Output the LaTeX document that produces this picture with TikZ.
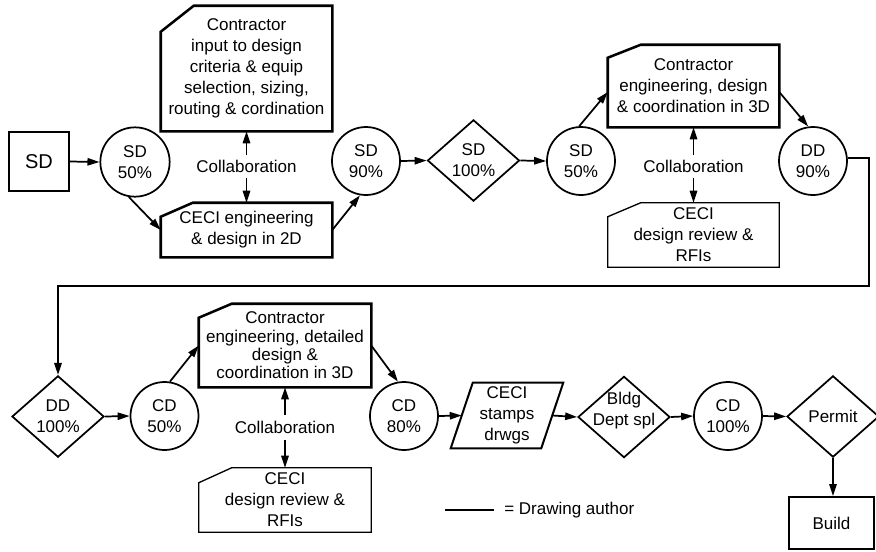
\documentclass[tikz,border=0pt]{standalone}
\usepackage{fontspec}
\setmainfont{Liberation Sans}
\usetikzlibrary{shapes.geometric,arrows.meta}

% Rectangle outline with the top-left corner cut off:
% #1 draw style, #2 node name, #3 horizontal cut, #4 vertical cut
\newcommand\cutbox[4]{%
  \draw[#1] ([yshift=-#4]#2.north west) -- ([xshift=#3]#2.north west)
    -- (#2.north east) -- (#2.south east) -- (#2.south west) -- cycle;}

% Parallelogram outline around a rectangular node, #3 = slant offset
\newcommand\slantbox[3]{%
  \draw[#1] ([xshift=#3]#2.north west) -- ([xshift=#3]#2.north east)
    -- ([xshift=-#3]#2.south east) -- ([xshift=-#3]#2.south west) -- cycle;}

\begin{document}
\begin{tikzpicture}[x=0.75pt,y=-0.75pt,
  every node/.style={font=\fontsize{12.75pt}{15.75pt}\selectfont,
    align=center, inner sep=0pt},
  proc/.style={rectangle, draw, line width=1.5pt},
  area/.style={rectangle, minimum width=128.25pt},
  circ/.style={circle, draw, line width=1.3pt, minimum size=51pt},
  dia/.style={diamond, draw, line width=1.3pt, minimum width=69pt,
    minimum height=61pt, aspect=1.14},
  flow/.style={line width=1.3pt, -{Triangle[length=9pt,width=5.5pt]}},
  author/.style={line width=1.9pt},
  review/.style={line width=1.0pt},
  collab/.style={minimum height=17.25pt},
  ]
\useasboundingbox (0,0) rectangle (876,551);

% ---- upper row ----
\node[proc, minimum width=45pt, minimum height=44.25pt,
  font=\fontsize{15pt}{18pt}\selectfont] (sd) at (39,161.5) {SD};
\node[circ, minimum size=52pt] (sd50) at (135,162) {SD\\50\%};

\node[area, minimum height=93.75pt] (cinput) at (246.5,68.5)
  {Contractor\\input to design\\criteria \& equip\\selection, sizing,\\routing \& cordination};
\cutbox{author}{cinput}{24.75pt}{19.5pt}
\node[collab] (collab1) at (246.5,166.5) {Collaboration};
\node[area, minimum height=40.5pt] (ceci2d) at (246.5,230)
  {CECI engineering\\\& design in 2D};
\cutbox{author}{ceci2d}{24pt}{10.5pt}

\node[circ] (sd90) at (366,161) {SD\\90\%};
\node[dia] (sd100) at (473.5,160.5) {SD\\100\%};
\node[circ] (sd50b) at (581,161) {SD\\50\%};

\node[area, minimum height=61.5pt] (c3d) at (693.5,86)
  {Contractor\\engineering, design\\\& coordination in 3D};
\cutbox{author}{c3d}{24.75pt}{9.75pt}
\node[collab] (collab2) at (693.5,166.5) {Collaboration};
\node[area, minimum height=48pt] (rev1) at (693.5,235)
  {CECI\\design review \&\\RFIs};
\cutbox{review}{rev1}{24.75pt}{10.5pt}

\node[circ] (dd90) at (813,161) {DD\\90\%};
\coordinate (turn) at (869,286);

% ---- lower row ----
\node[dia] (dd100) at (58,416.5) {DD\\100\%};
\node[circ] (cd50) at (164.5,416) {CD\\50\%};

\node[area, minimum width=129pt, minimum height=62.25pt,
  font=\fontsize{12.75pt}{13.75pt}\selectfont] (cdet) at (285,345.5)
  {Contractor\\engineering, detailed\\design \&\\coordination in 3D};
\cutbox{author}{cdet}{24.75pt}{10.5pt}
\node[collab, minimum height=18.75pt] (collab3) at (285,427.5) {Collaboration};
\node[area, minimum width=129pt, minimum height=48pt] (rev2) at (285,500)
  {CECI\\design review \&\\RFIs};
\cutbox{review}{rev2}{24.75pt}{11.25pt}

\node[circ] (cd80) at (404,416) {CD\\80\%};
\node[rectangle, minimum width=67.5pt, minimum height=48.75pt] (stamps)
  at (507,415.5) {CECI\\stamps\\drwgs};
\slantbox{line width=1.5pt}{stamps}{8.25pt}

\node[dia] (bldg) at (624,417) {};
\node (bldgtxt) at (624,411) {Bldg\\Dept spl};
\node[circ] (cd100) at (728,416) {CD\\100\%};
\node[dia] (permit) at (833,416.5) {Permit};
\node[proc, minimum width=63.75pt, minimum height=39pt] (build)
  at (831.5,523) {Build};

% ---- connectors ----
\draw[flow] (sd.east) -- (sd50.west);
\draw[flow] (sd50.-100) -- (ceci2d.west);
\draw[flow] (collab1.north) -- (cinput.south);
\draw[flow] (collab1.south) -- (ceci2d.north);
\draw[flow] (ceci2d.east) -- (sd90.-100);
\draw[flow] (sd90.east) -- (sd100.west);
\draw[flow] (sd100.east) -- (sd50b.west);
\draw[flow] (sd50b.93) -- ([yshift=-4.5pt]c3d.west);
\draw[flow] (collab2.north) -- (c3d.south);
\draw[flow] (collab2.south) -- (rev1.north);
\draw[flow] ([yshift=-4.5pt]c3d.east) -- (dd90.98);
\draw[flow] (dd90.5) -| (turn) -| (dd100.north);

\draw[flow] (dd100.east) -- (cd50.west);
\draw[flow] (cd50.81) -- (cdet.west);
\draw[flow] (collab3.north) -- (cdet.south);
\draw[flow] (collab3.south) -- (rev2.north);
\draw[flow] (cdet.east) -- (cd80.100);
\draw[flow] (cd80.east) -- (stamps.west);
\draw[flow] (stamps.east) -- (bldg.west);
\draw[flow] (bldg.east) -- (cd100.west);
\draw[flow] (cd100.east) -- (permit.west);
\draw[flow] (permit.south) -- (permit.south |- build.north);

% ---- legend ----
\coordinate (legA) at (445,510);
\coordinate (legB) at (494,510);
\draw[author] (legA) -- (legB);
\node[anchor=west] (legtxt) at (504,510) {= Drawing author};
\end{tikzpicture}
\end{document}
